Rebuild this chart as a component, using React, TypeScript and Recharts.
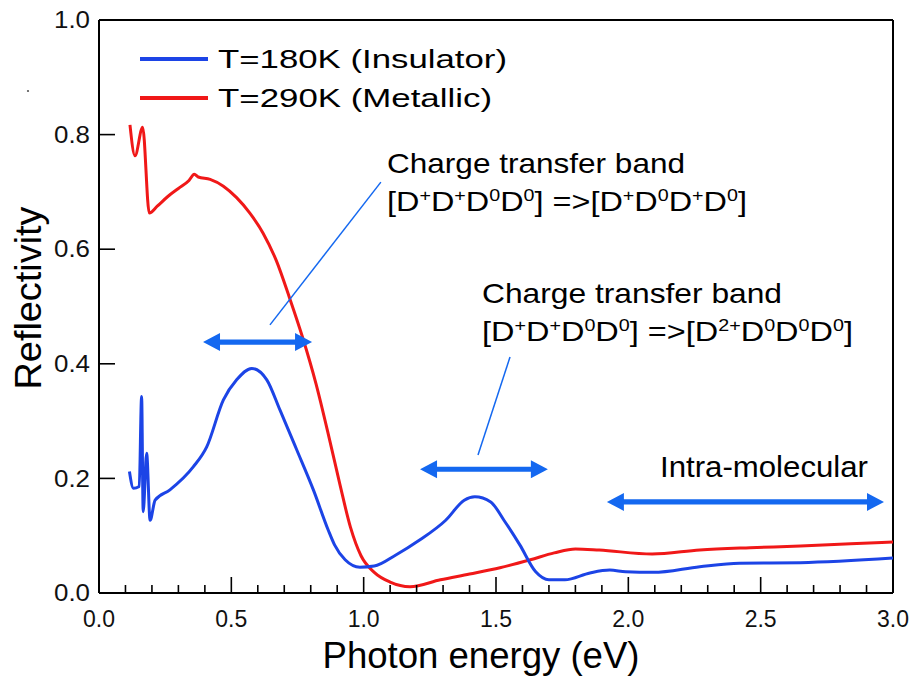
import { LineChart, Line, XAxis, YAxis, ReferenceLine } from 'recharts';

const FONT = '"Liberation Sans", Arial, Helvetica, sans-serif';
const BLUE = '#1c44e6';
const RED = '#f01818';
const ARROW = '#1468f0';

// T=180K (insulator) reflectivity spectrum
const insulatorEnergy = [
  0.115, 0.13, 0.152, 0.161, 0.167, 0.18, 0.193, 0.212, 0.268, 0.356, 0.407, 0.47, 0.52, 0.577,
  0.634, 0.684, 0.747, 0.81, 0.866, 0.89, 0.93, 0.986, 1.04, 1.12, 1.21, 1.31, 1.38, 1.42, 1.48,
  1.53, 1.59, 1.65, 1.7, 1.76, 1.855, 1.93, 1.99, 2.094, 2.27, 2.42, 2.65, 3.0,
];
const insulatorRefl = [
  0.212, 0.183, 0.186, 0.343, 0.142, 0.244, 0.127, 0.162, 0.18, 0.22, 0.255, 0.337, 0.372, 0.392,
  0.372, 0.319, 0.25, 0.18, 0.11, 0.084, 0.058, 0.045, 0.047, 0.066, 0.092, 0.127, 0.162, 0.168,
  0.159, 0.127, 0.084, 0.037, 0.023, 0.023, 0.035, 0.04, 0.037, 0.036, 0.046, 0.052, 0.053, 0.061,
];

// T=290K (metallic)
const metallicEnergy = [
  0.117, 0.136, 0.165, 0.19, 0.22, 0.26, 0.3, 0.34, 0.36, 0.375, 0.42, 0.47, 0.52, 0.57, 0.62,
  0.67, 0.72, 0.77, 0.82, 0.87, 0.91, 0.95, 0.99, 1.04, 1.1, 1.175, 1.29, 1.4, 1.515, 1.63, 1.72,
  1.8, 1.89, 2.09, 2.27, 2.46, 2.65, 2.84, 3.0,
];
const metallicRefl = [
  0.817, 0.763, 0.813, 0.663, 0.675, 0.692, 0.706, 0.72, 0.731, 0.726, 0.722, 0.71, 0.69, 0.663,
  0.628, 0.58, 0.515, 0.445, 0.365, 0.27, 0.19, 0.115, 0.065, 0.036, 0.019, 0.011, 0.023, 0.033,
  0.044, 0.058, 0.07, 0.077, 0.075, 0.068, 0.075, 0.079, 0.082, 0.086, 0.089,
];

const xTicks = [
  0, 0.1, 0.2, 0.3, 0.4, 0.5, 0.6, 0.7, 0.8, 0.9, 1.0, 1.1, 1.2, 1.3, 1.4, 1.5, 1.6, 1.7, 1.8, 1.9,
  2.0, 2.1, 2.2, 2.3, 2.4, 2.5, 2.6, 2.7, 2.8, 2.9, 3.0,
];
const yTicks = [0, 0.2, 0.4, 0.6, 0.8, 1.0];

// band ranges marked with double arrows (eV, at reflectivity height)
const bandArrows = [
  { from: 0.393, to: 0.805, at: 0.438 },
  { from: 1.213, to: 1.696, at: 0.216 },
  { from: 1.919, to: 2.966, at: 0.159 },
];
const pointerLines = [
  { x1: 1.065, y1: 0.717, x2: 0.646, y2: 0.468 },
  { x1: 1.553, y1: 0.412, x2: 1.432, y2: 0.241 },
];

type Piece = [string, boolean];
const formulaNeighbour: Piece[] = [
  ['[D', false], ['+', true], ['D', false], ['+', true], ['D', false], ['0', true], ['D', false], ['0', true],
  ['] =>[D', false], ['+', true], ['D', false], ['0', true], ['D', false], ['+', true], ['D', false], ['0', true],
  [']', false],
];
const formulaOnsite: Piece[] = [
  ['[D', false], ['+', true], ['D', false], ['+', true], ['D', false], ['0', true], ['D', false], ['0', true],
  ['] =>[D', false], ['2+', true], ['D', false], ['0', true], ['D', false], ['0', true], ['D', false], ['0', true],
  [']', false],
];

const insulatorData = insulatorEnergy.map((e, i) => ({ e, r: insulatorRefl[i] }));
const metallicData = metallicEnergy.map((e, i) => ({ e, r: metallicRefl[i] }));

const X_MARGIN = 10;
const Y_MARGIN = 9;

function XTick(props: any) {
  const { x, y, payload } = props;
  const v = payload.value as number;
  const major = Math.abs(v * 2 - Math.round(v * 2)) < 1e-6;
  const axisY = y - X_MARGIN;
  return (
    <g>
      <line x1={x} x2={x} y1={axisY} y2={axisY - (major ? 16 : 8)} stroke="#000" strokeWidth={1.6} />
      {major && (
        <text x={x} y={axisY + 34} textAnchor="middle" fontSize={23} fontFamily={FONT} fill="#111">
          {v.toFixed(1)}
        </text>
      )}
    </g>
  );
}

function YTick(props: any) {
  const { x, y, payload } = props;
  const axisX = x + Y_MARGIN;
  return (
    <g>
      <line x1={axisX} x2={axisX + 16} y1={y} y2={y} stroke="#000" strokeWidth={1.6} />
      <text
        x={x}
        y={y}
        dy="0.36em"
        textAnchor="end"
        fontSize={23}
        fontFamily={FONT}
        fill="#111"
        textLength={36}
        lengthAdjust="spacingAndGlyphs"
      >
        {(payload.value as number).toFixed(1)}
      </text>
    </g>
  );
}

function DoubleArrow(props: any) {
  const { x1, y1, x2, y2 } = props;
  const dx = x2 - x1;
  const dy = y2 - y1;
  const len = Math.hypot(dx, dy) || 1;
  const ux = dx / len;
  const uy = dy / len;
  const nx = -uy;
  const ny = ux;
  const hl = 17;
  const hw = 9;
  const sw = 2.6;
  const b1x = x1 + ux * hl;
  const b1y = y1 + uy * hl;
  const b2x = x2 - ux * hl;
  const b2y = y2 - uy * hl;
  const pts = [
    [x1, y1],
    [b1x + nx * hw, b1y + ny * hw],
    [b1x + nx * sw, b1y + ny * sw],
    [b2x + nx * sw, b2y + ny * sw],
    [b2x + nx * hw, b2y + ny * hw],
    [x2, y2],
    [b2x - nx * hw, b2y - ny * hw],
    [b2x - nx * sw, b2y - ny * sw],
    [b1x - nx * sw, b1y - ny * sw],
    [b1x - nx * hw, b1y - ny * hw],
  ];
  return <polygon points={pts.map((p) => p.join(',')).join(' ')} fill={ARROW} />;
}

function Formula({ x, y, pieces, width }: { x: number; y: number; pieces: Piece[]; width: number }) {
  let prevSup = false;
  return (
    <text x={x} y={y} fontSize={28} fontFamily={FONT} fill="#000" textLength={width} lengthAdjust="spacingAndGlyphs">
      {pieces.map(([t, sup], i) => {
        const dy = sup === prevSup ? 0 : sup ? -10 : 10;
        prevSup = sup;
        return (
          <tspan key={i} dy={dy} fontSize={sup ? 17 : 28}>
            {t}
          </tspan>
        );
      })}
    </text>
  );
}

export default function App() {
  return (
    <div style={{ position: 'absolute', left: 0, top: 0, width: 914, height: 679, background: '#fff' }}>
      <LineChart width={914} height={679} margin={{ top: 20, right: 21, left: 0, bottom: 0 }}>
        <XAxis
          dataKey="e"
          type="number"
          domain={[0, 3]}
          ticks={xTicks}
          interval={0}
          height={86}
          tickSize={0}
          tickMargin={X_MARGIN}
          tickLine={false}
          axisLine={{ stroke: '#000', strokeWidth: 2 }}
          tick={XTick}
          allowDuplicatedCategory={false}
        />
        <YAxis
          type="number"
          domain={[0, 1]}
          ticks={yTicks}
          interval={0}
          width={99}
          tickSize={0}
          tickMargin={Y_MARGIN}
          tickLine={false}
          axisLine={{ stroke: '#000', strokeWidth: 2 }}
          tick={YTick}
        />
        <ReferenceLine y={1} stroke="#000" strokeWidth={2} />
        <ReferenceLine x={3} stroke="#000" strokeWidth={2} />
        <Line
          data={metallicData}
          dataKey="r"
          type="monotone"
          stroke={RED}
          strokeWidth={3}
          dot={false}
          isAnimationActive={false}
        />
        <Line
          data={insulatorData}
          dataKey="r"
          type="monotone"
          stroke={BLUE}
          strokeWidth={3}
          dot={false}
          isAnimationActive={false}
        />
        {pointerLines.map((p, i) => (
          <ReferenceLine
            key={'p' + i}
            segment={[
              { x: p.x1, y: p.y1 },
              { x: p.x2, y: p.y2 },
            ]}
            stroke={ARROW}
            strokeWidth={1.5}
          />
        ))}
        {bandArrows.map((a, i) => (
          <ReferenceLine
            key={'a' + i}
            segment={[
              { x: a.from, y: a.at },
              { x: a.to, y: a.at },
            ]}
            shape={DoubleArrow}
          />
        ))}
      </LineChart>
      <svg
        width={914}
        height={679}
        style={{ position: 'absolute', left: 0, top: 0, pointerEvents: 'none' }}
        fontFamily={FONT}
      >
        <circle cx={28} cy={91} r={1.1} fill="#555" />
        <line x1={140} x2={208} y1={59} y2={59} stroke={BLUE} strokeWidth={4} />
        <text x={218} y={68} fontSize={25} textLength={289} lengthAdjust="spacingAndGlyphs" fill="#000">
          T=180K (Insulator)
        </text>
        <line x1={140} x2={208} y1={98} y2={98} stroke={RED} strokeWidth={4} />
        <text x={218} y={107} fontSize={25} textLength={274} lengthAdjust="spacingAndGlyphs" fill="#000">
          T=290K (Metallic)
        </text>
        <text x={387} y={173} fontSize={28} textLength={298} lengthAdjust="spacingAndGlyphs" fill="#000">
          Charge transfer band
        </text>
        <Formula x={387} y={211} pieces={formulaNeighbour} width={360} />
        <text x={482} y={303} fontSize={28} textLength={300} lengthAdjust="spacingAndGlyphs" fill="#000">
          Charge transfer band
        </text>
        <Formula x={482} y={341} pieces={formulaOnsite} width={371} />
        <text x={660} y={477} fontSize={30} textLength={208} lengthAdjust="spacingAndGlyphs" fill="#000">
          Intra-molecular
        </text>
        <text
          x={41}
          y={298}
          fontSize={36}
          textAnchor="middle"
          textLength={183}
          lengthAdjust="spacingAndGlyphs"
          transform="rotate(-90 41 298)"
          fill="#000"
        >
          Reflectivity
        </text>
        <text x={481} y={668} fontSize={36} textAnchor="middle" textLength={317} lengthAdjust="spacingAndGlyphs" fill="#000">
          Photon energy (eV)
        </text>
      </svg>
    </div>
  );
}
